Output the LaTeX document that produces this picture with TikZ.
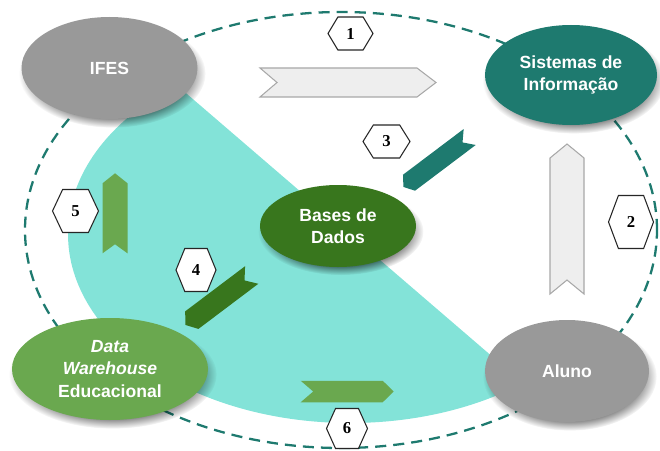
\documentclass[tikz,border=0pt]{standalone}
\usepackage{fontspec}
\setmainfont{Liberation Sans}
\newfontfamily\numfont{Liberation Serif}
\usetikzlibrary{shapes.geometric,shadows,fadings}

\definecolor{ifesgray}{HTML}{999999}
\definecolor{siteal}{HTML}{1E7A6F}
\definecolor{bdgreen}{HTML}{38761D}
\definecolor{dwgreen}{HTML}{6AA84F}
\definecolor{zonecyan}{HTML}{83E3D8}
\definecolor{palefill}{HTML}{EEEEEE}
\definecolor{paleline}{HTML}{A8A8A8}

\tikzset{
  bubble/.style={ellipse,inner sep=0pt,text=white,align=center,
    font=\fontsize{10}{12.8}\selectfont\bfseries,
    general shadow={fill=black,opacity=0.5,path fading=circle with fuzzy edge 20 percent,
      shadow scale=1.06,shadow xshift=1.5pt,shadow yshift=-3pt}},
  palearrow/.style={fill=palefill,draw=paleline,line width=0.6pt},
  hexline/.style={draw=black!85,fill=white,line width=0.6pt},
  hexnum/.style={font=\numfont\bfseries\fontsize{9.5}{9.5}\selectfont,inner sep=0pt},
}

\begin{document}
\begin{tikzpicture}
  \useasboundingbox (0,0) rectangle (13.2,9);

  % shaded zone, cut along the IFES--Aluno line
  \begin{scope}
    \clip (2.4,8.272) -- (11.2,0.704) -- (11.2,-0.5) -- (-0.5,-0.5) -- (-0.5,8.272) -- cycle;
    \fill[zonecyan] (7.0,4.32) ellipse (5.64 and 3.78);
  \end{scope}

  % outer cycle
  \draw[siteal,line width=1.3pt,dash pattern=on 6.3pt off 4pt] (6.82,4.4) ellipse (6.32 and 4.36);

  % flow arrows
  \filldraw[palearrow,shift={(5.2,7.35)}] (0,0.29) -- (3.14,0.29) -- (3.52,0) -- (3.14,-0.29) -- (0,-0.29) -- (0.34,0) -- cycle;
  \filldraw[palearrow,shift={(11.34,3.12)},rotate=90] (0,0.34) -- (2.72,0.34) -- (3.0,0) -- (2.72,-0.34) -- (0,-0.34) -- (0.28,0) -- cycle;
  \fill[siteal,shift={(9.394,6.26)},rotate=217] (0,0.2) -- (1.52,0.2) -- (1.66,0) -- (1.52,-0.2) -- (0,-0.2) -- (0.18,0) -- cycle;
  \fill[bdgreen,shift={(5.034,3.5)},rotate=217] (0,0.22) -- (1.5,0.22) -- (1.66,0) -- (1.5,-0.22) -- (0,-0.22) -- (0.18,0) -- cycle;
  \fill[dwgreen,shift={(2.3,3.934)},rotate=90] (0,0.25) -- (1.4,0.25) -- (1.6,0) -- (1.4,-0.25) -- (0,-0.25) -- (0.18,0) -- cycle;
  \fill[dwgreen,shift={(6.014,1.17)}] (0,0.215) -- (1.64,0.215) -- (1.86,0) -- (1.64,-0.215) -- (0,-0.215) -- (0.25,0) -- cycle;

  % step numbers
  \foreach \n/\x/\y/\w/\h in {1/7.01/8.33/0.90/0.66, 2/12.62/4.56/0.90/1.06, 3/7.73/6.17/0.94/0.66,
                              4/3.92/3.60/0.80/0.86, 5/1.51/4.78/0.92/0.86, 6/6.94/0.43/0.82/0.80} {
    \filldraw[hexline] (\x-\w/2,\y) -- ++(0.22*\w,\h/2) -- ++(0.56*\w,0) -- ++(0.22*\w,-\h/2)
      -- ++(-0.22*\w,-\h/2) -- ++(-0.56*\w,0) -- cycle;
    \node[hexnum] (hex\n) at (\x,\y) {\n};
  }

  % actors
  \node[bubble,fill=ifesgray,minimum width=3.52cm,minimum height=2.04cm] (ifes) at (2.19,7.64) {IFES};
  \node[bubble,fill=siteal,minimum width=3.44cm,minimum height=2.0cm] (sistemas) at (11.42,7.5) {Sistemas de\\Informação};
  \node[bubble,fill=bdgreen,minimum width=3.12cm,minimum height=1.64cm] (bases) at (6.76,4.48) {Bases de\\Dados};
  \node[bubble,fill=dwgreen,minimum width=3.92cm,minimum height=2.04cm] (dw) at (2.2,1.62) {\textit{Data}\\\textit{Warehouse}\\Educacional};
  \node[bubble,fill=ifesgray,minimum width=3.28cm,minimum height=2.04cm] (aluno) at (11.34,1.58) {Aluno};
\end{tikzpicture}
\end{document}
